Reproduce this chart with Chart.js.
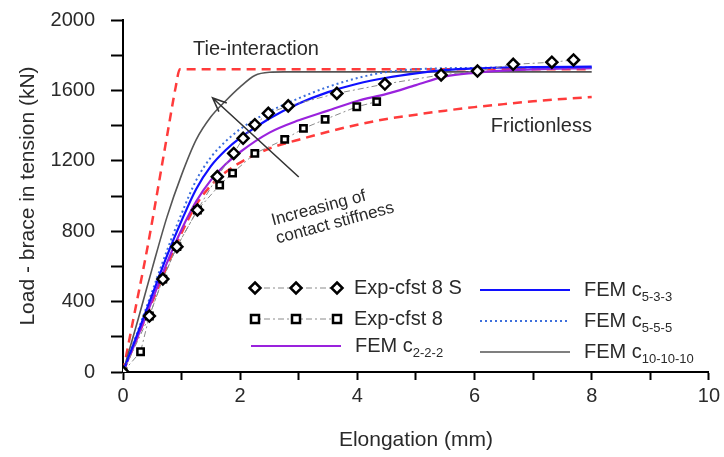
<!DOCTYPE html>
<html>
<head>
<meta charset="utf-8">
<script src="https://cdn.jsdelivr.net/npm/chart.js@4"></script>
<style>
  html, body { margin: 0; padding: 0; background: #fff; }
  #wrap { width: 724px; height: 457px; }
</style>
</head>
<body>
<div id="wrap"><canvas id="chart" width="724" height="457"></canvas></div>
<script>
// Load vs elongation
const tieX = [0, 0.2, 0.42, 0.76, 0.9, 0.97, 8];
const tieY = [0, 340, 712, 1357, 1620, 1720, 1720];

const fricX = [0, 0.25, 0.5, 0.75, 1, 1.25, 1.5, 1.75, 2, 2.5, 3, 3.5, 4, 4.5, 5, 5.5, 6, 6.5, 7, 7.5, 8];
const fricY = [0, 200, 400, 600, 790, 950, 1060, 1135, 1190, 1270, 1320, 1365, 1405, 1438, 1462, 1485, 1505, 1522, 1538, 1551, 1562];

const expSX = [0, 0.45, 0.68, 0.92, 1.27, 1.61, 1.89, 2.05, 2.25, 2.48, 2.82, 3.65, 4.47, 5.43, 6.05, 6.66, 7.32, 7.69];
const expSY = [0, 318, 528, 712, 920, 1110, 1242, 1328, 1405, 1470, 1512, 1583, 1636, 1688, 1710, 1748, 1760, 1773];

const expX = [0, 0.30, 0.45, 0.68, 0.92, 1.27, 1.65, 1.87, 2.25, 2.76, 3.08, 3.45, 3.99, 4.33];
const expY = [0, 115, 318, 528, 712, 920, 1062, 1130, 1242, 1322, 1384, 1435, 1507, 1536];

const femX = [0, 0.25, 0.5, 0.75, 1, 1.25, 1.5, 1.75, 2, 2.5, 3, 3.5, 4, 4.5, 5, 5.5, 6, 6.5, 7, 8];
const fem533Y = [0, 220, 440, 660, 860, 1040, 1170, 1260, 1330, 1440, 1525, 1590, 1638, 1672, 1697, 1715, 1725, 1730, 1732, 1735];
const fem555Y = [0, 230, 460, 690, 900, 1090, 1220, 1310, 1380, 1480, 1555, 1620, 1670, 1705, 1720, 1726, 1728, 1730, 1730, 1730];
const fem222Y = [0, 200, 410, 620, 810, 970, 1090, 1180, 1250, 1360, 1430, 1485, 1540, 1580, 1630, 1680, 1700, 1712, 1720, 1727];

const fem10X = [0, 0.25, 0.5, 0.75, 1, 1.25, 1.5, 1.75, 2, 2.25, 2.5, 2.75, 3, 8];
const fem10Y = [0, 290, 590, 880, 1120, 1320, 1450, 1540, 1620, 1685, 1703, 1705, 1705, 1705];

const xTicks = [0, 2, 4, 6, 8, 10];
const yTicks = [0, 400, 800, 1200, 1600, 2000];

const FONT = "'Liberation Sans', Arial, sans-serif";
const TEXT = "#2a2a2a";

function pts(xs, ys) {
  return xs.map((x, i) => ({ x: x, y: ys[i] }));
}

function curve(label, xs, ys, color, width, dash, order) {
  return {
    label: label,
    data: pts(xs, ys),
    borderColor: color,
    borderWidth: width,
    borderDash: dash,
    pointRadius: 0,
    fill: false,
    cubicInterpolationMode: "monotone",
    order: order,
  };
}

function expSeries(label, xs, ys, style, radius) {
  return {
    label: label,
    data: pts(xs, ys),
    borderColor: "#8a8a8a",
    borderWidth: 1,
    borderDash: [6, 3, 2, 3],
    pointStyle: style,
    pointRadius: radius,
    pointBorderColor: "#000",
    pointBackgroundColor: "#fff",
    pointBorderWidth: 2.5,
    tension: 0,
    fill: false,
    order: 0,
  };
}

// small helper for the legend markers
function marker(ctx, style, cx, cy) {
  ctx.fillStyle = "#fff";
  ctx.strokeStyle = "#000";
  ctx.lineWidth = 2.5;
  ctx.beginPath();
  if (style === "rect") {
    ctx.rect(cx - 4, cy - 4, 8, 8);
  } else {
    ctx.moveTo(cx, cy - 5.5);
    ctx.lineTo(cx + 5.5, cy);
    ctx.lineTo(cx, cy + 5.5);
    ctx.lineTo(cx - 5.5, cy);
    ctx.closePath();
  }
  ctx.fill();
  ctx.stroke();
}

// Annotations: arrow, rotated texts, custom two-column legend
const annotations = {
  id: "annotations",
  afterDatasetsDraw(chart) {
    const { ctx, scales } = chart;
    const px = (x) => scales.x.getPixelForValue(x);
    const py = (y) => scales.y.getPixelForValue(y);
    ctx.save();

    // arrow "increasing of contact stiffness"
    const x0 = px(3.0), y0 = py(1108), x1 = px(1.53), y1 = py(1557);
    ctx.strokeStyle = "#333";
    ctx.lineWidth = 1.6;
    ctx.beginPath();
    ctx.moveTo(x0, y0);
    ctx.lineTo(x1, y1);
    const ang = Math.atan2(y1 - y0, x1 - x0);
    const head = 15;
    ctx.moveTo(x1 - head * Math.cos(ang - 0.4), y1 - head * Math.sin(ang - 0.4));
    ctx.lineTo(x1, y1);
    ctx.lineTo(x1 - head * Math.cos(ang + 0.4), y1 - head * Math.sin(ang + 0.4));
    ctx.stroke();

    ctx.fillStyle = TEXT;
    ctx.textAlign = "center";
    ctx.textBaseline = "middle";
    ctx.font = "20px " + FONT;
    ctx.fillText("Tie-interaction", px(2.27), py(1835));
    ctx.fillText("Frictionless", px(7.14), py(1395));

    ctx.font = "17px " + FONT;
    const rot = -15 * Math.PI / 180;
    [["Increasing of", 3.34, 930], ["contact stiffness", 3.62, 845]].forEach(([t, x, y]) => {
      ctx.save();
      ctx.translate(px(x), py(y));
      ctx.rotate(rot);
      ctx.fillText(t, 0, 0);
      ctx.restore();
    });

    // legend
    const rows = [
      { x: 250, y: 288, w: 90, kind: "exp", style: "rectRot", text: "Exp-cfst 8 S" },
      { x: 250, y: 319, w: 90, kind: "exp", style: "rect", text: "Exp-cfst 8" },
      { x: 251, y: 346, w: 90, kind: "line", ds: 4, text: "FEM c", sub: "2-2-2" },
      { x: 480, y: 290, w: 90, kind: "line", ds: 2, text: "FEM c", sub: "5-3-3" },
      { x: 480, y: 321, w: 90, kind: "line", ds: 3, text: "FEM c", sub: "5-5-5" },
      { x: 480, y: 352, w: 90, kind: "line", ds: 5, text: "FEM c", sub: "10-10-10" },
    ];
    rows.forEach((r) => {
      ctx.save();
      if (r.kind === "exp") {
        ctx.strokeStyle = "#8a8a8a";
        ctx.lineWidth = 1;
        ctx.setLineDash([6, 3, 2, 3]);
        ctx.beginPath();
        ctx.moveTo(r.x, r.y);
        ctx.lineTo(r.x + r.w, r.y);
        ctx.stroke();
        ctx.setLineDash([]);
        [0, 0.5, 1].forEach((f) => marker(ctx, r.style, r.x + 5 + f * (r.w - 8), r.y));
      } else {
        const ds = chart.data.datasets[r.ds];
        ctx.strokeStyle = ds.borderColor;
        ctx.lineWidth = ds.borderWidth;
        ctx.setLineDash(ds.borderDash || []);
        ctx.beginPath();
        ctx.moveTo(r.x, r.y);
        ctx.lineTo(r.x + r.w, r.y);
        ctx.stroke();
      }
      ctx.restore();
      ctx.fillStyle = TEXT;
      ctx.textAlign = "left";
      ctx.textBaseline = "middle";
      ctx.font = "20px " + FONT;
      const tx = r.x + r.w + 14;
      ctx.fillText(r.text, tx, r.y);
      if (r.sub) {
        const w = ctx.measureText(r.text).width;
        ctx.font = "13px " + FONT;
        ctx.fillText(r.sub, tx + w, r.y + 7);
      }
    });
    ctx.restore();
  },
};

const ctx = document.getElementById("chart");
new Chart(ctx, {
  type: "line",
  data: {
    datasets: [
      expSeries("Exp-cfst 8 S", expSX, expSY, "rectRot", 5.5),
      expSeries("Exp-cfst 8", expX, expY, "rect", 4.5),
      curve("FEM c5-3-3", femX, fem533Y, "#1010ff", 2.2, [], 2),
      curve("FEM c5-5-5", femX, fem555Y, "#3d6fdc", 2, [2, 3], 3),
      curve("FEM c2-2-2", femX, fem222Y, "#9a22dd", 2.2, [], 4),
      curve("FEM c10-10-10", fem10X, fem10Y, "#555", 1.6, [], 5),
      curve("Tie-interaction", tieX, tieY, "#ff3b3b", 2.5, [9, 6], 6),
      curve("Frictionless", fricX, fricY, "#ff3b3b", 2.5, [9, 6], 6),
    ],
  },
  options: {
    responsive: false,
    animation: false,
    layout: { padding: { top: 20, right: 11, left: 12, bottom: 0 } },
    plugins: {
      legend: { display: false },
      tooltip: { enabled: false },
    },
    scales: {
      x: {
        type: "linear",
        min: 0,
        max: 10,
        afterFit: (scale) => { scale.height = 85; },
        border: { color: "#000", width: 2 },
        grid: { drawOnChartArea: false, tickLength: 8, tickColor: "#000", tickWidth: 2 },
        ticks: {
          stepSize: 1,
          padding: 4,
          color: TEXT,
          font: { size: 20, family: FONT },
          callback: (v) => (xTicks.includes(v) ? String(v) : ""),
        },
        title: {
          display: true,
          text: "Elongation (mm)",
          color: TEXT,
          font: { size: 21, family: FONT },
          padding: { top: 0 },
        },
      },
      y: {
        min: 0,
        max: 2000,
        afterFit: (scale) => {
          scale.width = 111;
          scale.paddingTop = 0;
          scale.paddingBottom = 0;
        },
        border: { color: "#000", width: 2 },
        grid: { drawOnChartArea: false, tickLength: 12, tickColor: "#000", tickWidth: 2 },
        ticks: {
          stepSize: 200,
          padding: 16,
          color: TEXT,
          font: { size: 20, family: FONT },
          callback: (v) => (yTicks.includes(v) ? String(v) : ""),
        },
        title: {
          display: true,
          text: "Load - brace in tension (kN)",
          color: TEXT,
          font: { size: 21, family: FONT },
        },
      },
    },
  },
  plugins: [annotations],
});
</script>
</body>
</html>
